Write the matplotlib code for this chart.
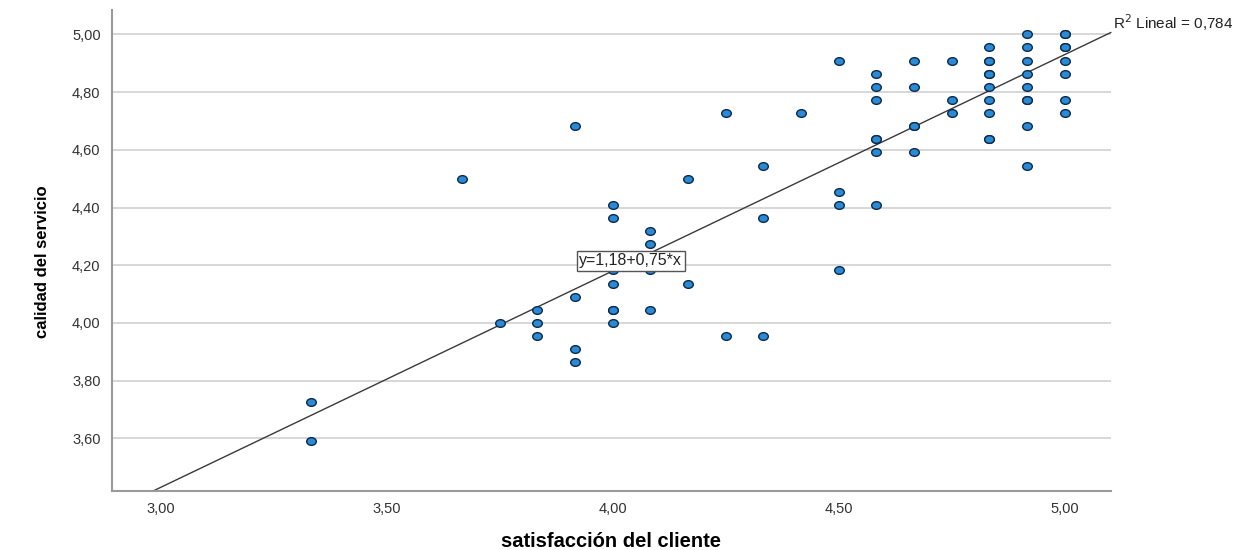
import numpy as np
import matplotlib
matplotlib.use("Agg")
import matplotlib.pyplot as plt
from matplotlib.path import Path

# satisfaccion del cliente (x) / calidad del servicio (y)
satisfaccion = [
    3.333, 3.333,
    3.667,
    3.750,
    3.833, 3.833, 3.833,
    3.917, 3.917, 3.917, 3.917,
    4.000, 4.000, 4.000, 4.000, 4.000, 4.000, 4.000,
    4.083, 4.083, 4.083, 4.083,
    4.167, 4.167,
    4.250, 4.250,
    4.333, 4.333, 4.333,
    4.417,
    4.500, 4.500, 4.500, 4.500,
    4.583, 4.583, 4.583, 4.583, 4.583, 4.583, 4.583,
    4.667, 4.667, 4.667, 4.667, 4.667,
    4.750, 4.750, 4.750,
    4.833, 4.833, 4.833, 4.833, 4.833, 4.833, 4.833, 4.833, 4.833, 4.833,
    4.917, 4.917, 4.917, 4.917, 4.917, 4.917, 4.917, 4.917, 4.917,
    5.000, 5.000, 5.000, 5.000, 5.000, 5.000, 5.000, 5.000,
]
calidad = [
    3.727, 3.591,
    4.500,
    4.000,
    4.045, 4.000, 3.955,
    4.682, 4.091, 3.909, 3.864,
    4.409, 4.364, 4.182, 4.136, 4.045, 4.045, 4.000,
    4.318, 4.273, 4.182, 4.045,
    4.500, 4.136,
    4.727, 3.955,
    4.545, 4.364, 3.955,
    4.727,
    4.909, 4.455, 4.409, 4.182,
    4.864, 4.818, 4.773, 4.636, 4.636, 4.591, 4.409,
    4.909, 4.818, 4.682, 4.682, 4.591,
    4.909, 4.773, 4.727,
    4.955, 4.909, 4.909, 4.864, 4.864, 4.818, 4.773, 4.727, 4.636, 4.636,
    5.000, 4.955, 4.909, 4.864, 4.818, 4.773, 4.773, 4.682, 4.545,
    5.000, 5.000, 4.955, 4.955, 4.909, 4.864, 4.773, 4.727,
]

intercepto = 1.18
pendiente = 0.75
r2 = "0,784"

x_ticks = [3.0, 3.5, 4.0, 4.5, 5.0]
y_ticks = [3.6, 3.8, 4.0, 4.2, 4.4, 4.6, 4.8, 5.0]


def coma(v):
    return f"{v:.2f}".replace(".", ",")


# slightly wide ellipse marker like the SPSS output
circ = Path.unit_circle()
elipse = Path(circ.vertices * np.array([1.25, 1.0]), circ.codes)

fig = plt.figure(figsize=(12.44, 5.5), dpi=100)
ax = fig.add_axes([0.0898, 0.108, 0.8031, 0.873])

xmin, xmax = 2.892, 5.102
ymin, ymax = 3.419, 5.083
ax.set_xlim(xmin, xmax)
ax.set_ylim(ymin, ymax)

ax.set_yticks(y_ticks)
ax.set_xticks(x_ticks)
ax.set_yticklabels([coma(v) for v in y_ticks])
ax.set_xticklabels([coma(v) for v in x_ticks])
ax.tick_params(length=0, labelsize=10.5, colors="#333333", labelfontfamily="Liberation Sans")
ax.tick_params(axis="y", pad=8)
ax.tick_params(axis="x", pad=8)

ax.grid(axis="y", color="#d4d4d4", linewidth=1.3)
ax.set_axisbelow(True)
for s in ["top", "right"]:
    ax.spines[s].set_visible(False)
for s in ["left", "bottom"]:
    ax.spines[s].set_color("#9a9a9a")
    ax.spines[s].set_linewidth(1.5)

# regression line across the plot area
x0 = (ymin - intercepto) / pendiente
xs = np.array([x0, xmax])
ax.plot(xs, intercepto + pendiente * xs, color="#3a3a3a", linewidth=1.0, zorder=2,
        clip_on=False)

ax.scatter(satisfaccion, calidad, marker=elipse, s=48, facecolor="#2a8ad6",
           edgecolor="#0d2a4a", linewidth=1.0, zorder=3, clip_on=False)

ax.text(4.04, 4.215, "y=1,18+0,75*x", fontsize=11.5, family="Liberation Sans",
        ha="center", va="center", color="#222222", zorder=4,
        bbox=dict(boxstyle="square,pad=0.15", facecolor="white", edgecolor="#555555",
                  linewidth=1.0))

ax.text(xmax + 0.004, intercepto + pendiente * xmax + 0.035,
        "R$^2$ Lineal = " + r2, fontsize=11, family="Liberation Sans",
        ha="left", va="center", color="#222222", clip_on=False)

ax.set_xlabel("satisfacción del cliente", fontsize=14.5, fontweight="bold",
              family="Liberation Sans", labelpad=12)
fig.text(0.034, 0.525, "calidad del servicio", rotation=90, fontsize=12,
         fontweight="bold", family=["Liberation Sans Narrow", "Liberation Sans"],
         ha="center", va="center")

fig.savefig("out.png", dpi=100, facecolor="white")
